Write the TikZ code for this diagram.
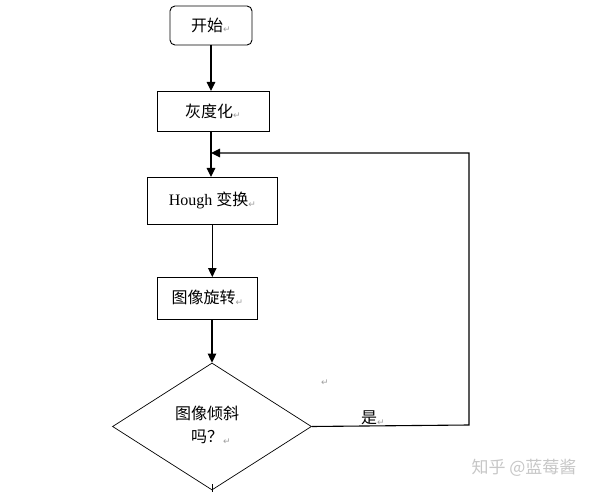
\documentclass[tikz,border=0pt]{standalone}
\usepackage{fontspec}
\setmainfont{Liberation Serif}
\newfontfamily\cjk{Noto Sans CJK SC}
\newfontfamily\symf{DejaVu Sans}
\usetikzlibrary{shapes.geometric,arrows.meta}
\newcommand{\parmark}{{\symf\fontsize{9}{10}\selectfont\color{gray!75}\raisebox{-1.5pt}{↵}}}
\begin{document}
\begin{tikzpicture}[x=1pt,y=-1pt,
  box/.style={draw,line width=0.9pt,inner sep=0pt,font=\fontsize{16}{19}\selectfont},
  conn/.style={line width=1.1pt,-{Triangle[length=9pt,width=8.5pt]}},
  plain/.style={line width=1.1pt},
  lbl/.style={font=\fontsize{16}{19}\selectfont\cjk}]
\useasboundingbox (0,0) rectangle (595,492);
\fill[white] (0,0) rectangle (595,492);
\node[box,rounded corners=5pt,minimum width=82pt,minimum height=39pt] (start) at (211,25.5) {\cjk 开始\parmark};
\node[box,minimum width=112pt,minimum height=40pt] (gray) at (213,111) {\cjk 灰度化\parmark};
\node[box,minimum width=130pt,minimum height=47pt] (hough) at (212.3,200.7) {Hough {\cjk 变换}\parmark};
\node[box,minimum width=100pt,minimum height=42pt] (rot) at (207.3,298) {\cjk 图像旋转\parmark};
\node[draw,diamond,line width=0.7pt,inner sep=0pt,minimum width=199pt,minimum height=127pt] (dec) at (212,426.5) {};
\node[lbl] (q1) at (207,413) {图像倾斜};
\node[lbl] (q2) at (211,437) {吗？\parmark};
\node[lbl] (yes) at (373,418) {是\parmark};
\node (stray) at (325,383) {\parmark};
\node[font=\fontsize{17}{19}\selectfont\cjk,text=black!22] (wm) at (524,468) {知乎 @蓝莓酱};
\coordinate (join) at (211,153);
\coordinate (c1) at (469,425);
\coordinate (c2) at (469,153);
\coordinate (bt) at (212,484);
\coordinate (bb) at (212,492);
\draw[conn] (211,45) -- (211,91);
\draw[plain] (211,131) -- (join);
\draw[conn] (join) -- (211,177);
\draw[conn] (212.3,224.3) -- (212.3,277);
\draw[conn] (dec.north |- rot.south) -- (dec.north);
\draw[conn] (dec.east) -- (c1) -- (c2) -- (join);
\draw[line width=0.9pt] (bt) -- (bb);
\end{tikzpicture}
\end{document}
